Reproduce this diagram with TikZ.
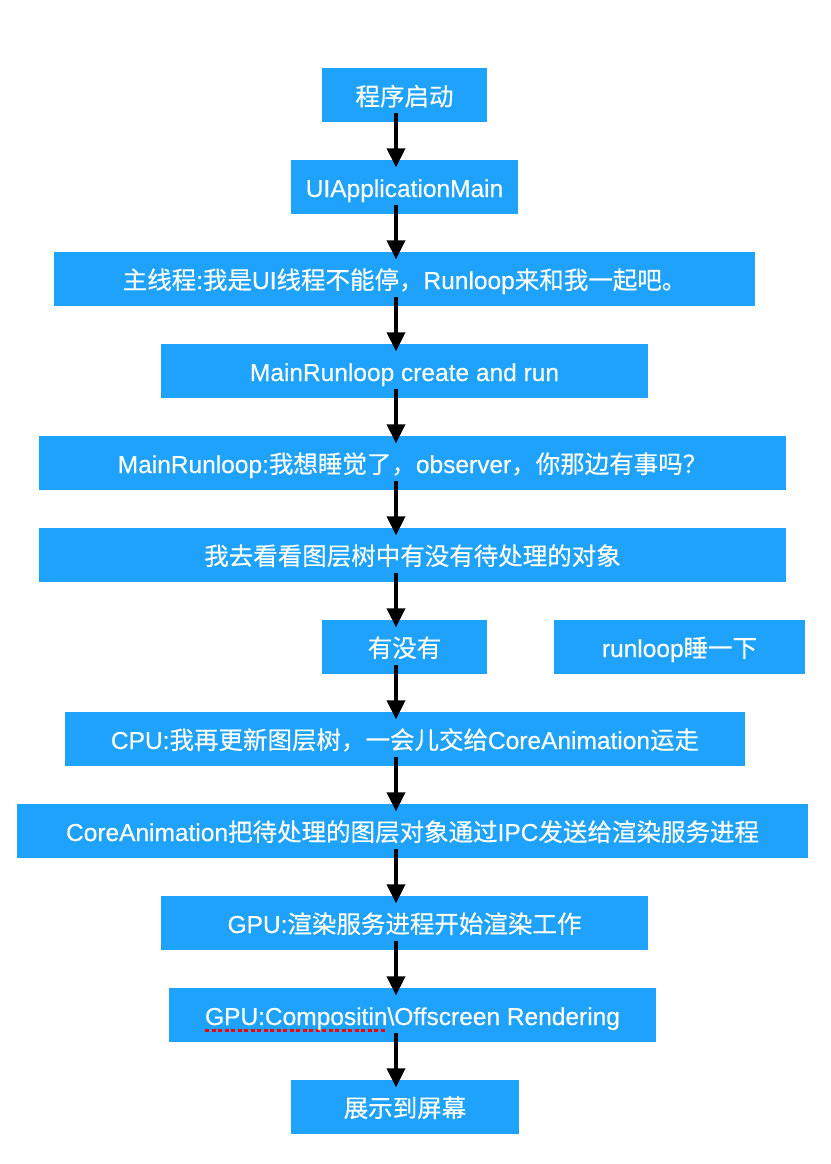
\documentclass[tikz,border=0pt]{standalone}
\usepackage{fontspec}
\usetikzlibrary{arrows.meta}
\setmainfont{Liberation Sans}[FakeBold=0.35]
\newfontfamily\cjk{Noto Sans CJK SC}[FakeBold=0.35]
\definecolor{boxblue}{RGB}{30,162,252}
\newsavebox\markbox
\newcommand\spellmark[1]{\sbox\markbox{#1}%
  \rlap{\raisebox{-6.5pt}{\textcolor{red}{\hbox to \wd\markbox{\xleaders\hbox{\rule{4pt}{2.5pt}\hskip2.5pt}\hfill}}}}\usebox\markbox}

\begin{document}
\begin{tikzpicture}[x=1pt,y=-1pt,
  box/.style={fill=boxblue, text=white, minimum height=54pt, inner sep=0pt, text height=24pt, text depth=3pt, font=\fontsize{24.5}{28}\selectfont},
  flow/.style={line width=4pt, -{Triangle[length=19pt,width=18pt]}}]
\useasboundingbox (0,0) rectangle (830,1164);
\coordinate (spine) at (396,0);
\node[box, minimum width=165pt] (start) at (404.5,95) {\cjk 程序启动};
\node[box, minimum width=227pt] (uiapp) at (404.5,186.5) {UIApplicationMain};
\node[box, minimum width=701pt] (mainthread) at (404.5,278.5) {{\cjk 主线程}:{\cjk 我是}UI{\cjk 线程不能停，}Runloop{\cjk 来和我一起吧。}};
\node[box, minimum width=487pt] (mainrl) at (404.5,370.5) {MainRunloop create and run};
\node[box, minimum width=747pt] (rlsleep) at (412.5,462.5) {MainRunloop:{\cjk 我想睡觉了，}observer{\cjk ，你那边有事吗？}};
\node[box, minimum width=747pt] (checktree) at (412.5,554.5) {\cjk 我去看看图层树中有没有待处理的对象};
\node[box, minimum width=165pt] (hasobj) at (404.5,646.5) {\cjk 有没有};
\node[box, minimum width=251pt] (rlnap) at (679.5,646.5) {runloop{\cjk 睡一下}};
\node[box, minimum width=680pt] (cpu) at (405,738.5) {CPU:{\cjk 我再更新图层树，一会儿交给}CoreAnimation{\cjk 运走}};
\node[box, minimum width=791pt] (coreanim) at (412.5,830.5) {CoreAnimation{\cjk 把待处理的图层对象通过}IPC{\cjk 发送给渲染服务进程}};
\node[box, minimum width=487pt] (gpurender) at (404.5,922.5) {GPU:{\cjk 渲染服务进程开始渲染工作}};
\node[box, minimum width=487pt] (gpucomp) at (412.5,1014.5) {\spellmark{GPU:Compositin}\textbackslash Offscreen Rendering};
\node[box, minimum width=228pt] (screen) at (405,1106.5) {\cjk 展示到屏幕};
\draw[flow] ([yshift=9pt]start.south -| spine) -- ([yshift=-8pt]uiapp.north -| spine);
\draw[flow] ([yshift=9pt]uiapp.south -| spine) -- ([yshift=-8pt]mainthread.north -| spine);
\draw[flow] ([yshift=9pt]mainthread.south -| spine) -- ([yshift=-8pt]mainrl.north -| spine);
\draw[flow] ([yshift=9pt]mainrl.south -| spine) -- ([yshift=-8pt]rlsleep.north -| spine);
\draw[flow] ([yshift=9pt]rlsleep.south -| spine) -- ([yshift=-8pt]checktree.north -| spine);
\draw[flow] ([yshift=9pt]checktree.south -| spine) -- ([yshift=-8pt]hasobj.north -| spine);
\draw[flow] ([yshift=9pt]hasobj.south -| spine) -- ([yshift=-8pt]cpu.north -| spine);
\draw[flow] ([yshift=9pt]cpu.south -| spine) -- ([yshift=-8pt]coreanim.north -| spine);
\draw[flow] ([yshift=9pt]coreanim.south -| spine) -- ([yshift=-8pt]gpurender.north -| spine);
\draw[flow] ([yshift=9pt]gpurender.south -| spine) -- ([yshift=-8pt]gpucomp.north -| spine);
\draw[flow] ([yshift=9pt]gpucomp.south -| spine) -- ([yshift=-8pt]screen.north -| spine);
\end{tikzpicture}
\end{document}
